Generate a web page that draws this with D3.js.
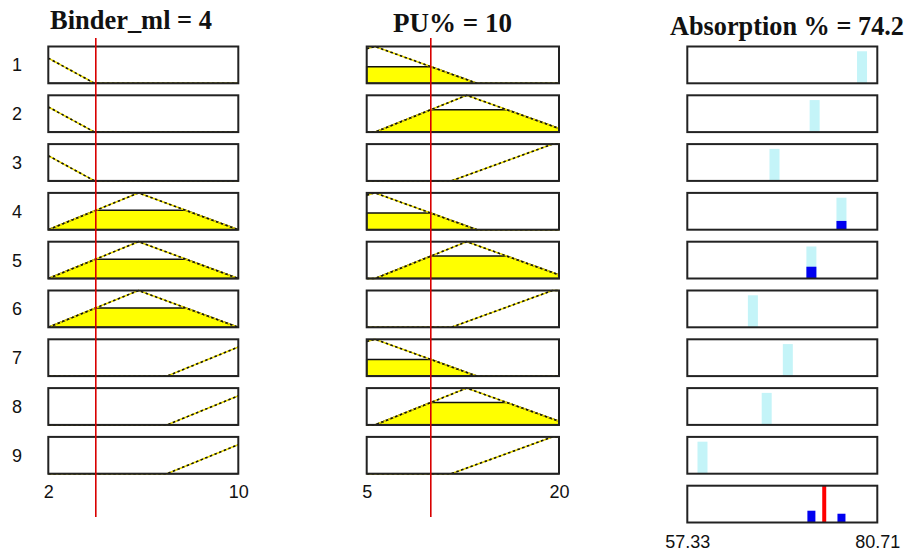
<!DOCTYPE html>
<html>
<head>
<meta charset="utf-8">
<script src="https://cdn.jsdelivr.net/npm/d3@7"></script>
<style>
  body { margin: 0; background: #fff; }
  svg { display: block; }
</style>
</head>
<body>
<svg></svg>
<script>
// figure size
var width = 913;
var height = 553;
var svg = d3.select("svg").attr("width", width).attr("height", height);

// inputs / ranges
var binderRange = [2, 10];
var puRange = [5, 20];
var outRange = [57.33, 80.71];
var binderValue = 4;
var puValue = 10;

// membership functions as trapezoids [a, b, c, d] (low, med, high)
var binderMF = [[-1, 1.1, 1.1, 3.95], [2, 5.8, 5.8, 10], [7, 10.8, 10.8, 14]];
var puMF = [[-5, 5.65, 5.65, 13.6], [5.65, 12.8, 12.8, 20.8], [11.6, 19.5, 20, 21]];

// rule table: which MF of each input, and the constant output of each rule
var ruleBinder = [0, 0, 0, 1, 1, 1, 2, 2, 2];
var rulePU = [0, 1, 2, 0, 1, 2, 0, 1, 2];
var ruleOutput = [78.83, 73.0, 68.06, 76.3, 72.6, 65.4, 69.7, 67.1, 59.2];

var rowLabels = ["1", "2", "3", "4", "5", "6", "7", "8", "9"];

function trap(x, p) {
    var a = p[0], b = p[1], c = p[2], d = p[3];
    if (x <= a || x >= d) return 0;
    if (x < b) return (x - a) / (b - a);
    if (x <= c) return 1;
    return (d - x) / (d - c);
}

// firing strength (product AND) and weighted average output
var binderDeg = binderMF.map(p => trap(binderValue, p));
var puDeg = puMF.map(p => trap(puValue, p));
var firing = ruleOutput.map((o, i) => binderDeg[ruleBinder[i]] * puDeg[rulePU[i]]);
var outValue = d3.sum(firing, (w, i) => w * ruleOutput[i]) / d3.sum(firing);

// layout scales
var rowY = d3.scaleBand()
    .domain(d3.range(1, 11))
    .range([46.5, 522.5])
    .paddingInner(12 / 48.8)
    .paddingOuter(0);
var bh = rowY.bandwidth();
var yS = d3.scaleLinear().domain([0, 1]).range([bh, 0]);

var xBinder = d3.scaleLinear().domain(binderRange).range([48.3, 238.3]);
var xPU = d3.scaleLinear().domain(puRange).range([366.7, 559]);
var xOut = d3.scaleLinear().domain(outRange).range([687.3, 877.3]);

var sansFont = "'Liberation Sans', Arial, sans-serif";
var serifFont = "'Liberation Serif', 'Times New Roman', serif";

// titles
var titles = [
    { t: "Binder_ml = " + binderValue, x: 50, y: 29, len: 162, fs: 28 },
    { t: "PU% = " + puValue, x: 393, y: 31.5, len: 119, fs: 28 },
    { t: "Absorption % = " + outValue.toFixed(1), x: 670, y: 34.5, len: 234, fs: 26.5 }
];
titles.forEach(d => {
    svg.append("text")
        .attr("x", d.x).attr("y", d.y)
        .attr("font-family", serifFont)
        .attr("font-weight", "bold")
        .attr("font-size", d.fs)
        .attr("textLength", d.len)
        .attr("lengthAdjust", "spacingAndGlyphs")
        .attr("fill", "#111")
        .text(d.t);
});

// row numbers
rowLabels.forEach((lab, i) => {
    svg.append("text")
        .attr("x", 17)
        .attr("y", rowY(i + 1) + bh / 2)
        .attr("dy", "0.36em")
        .attr("text-anchor", "middle")
        .attr("font-family", sansFont)
        .attr("font-size", 18)
        .attr("fill", "#111")
        .text(lab);
});

// one input column
function drawInput(xs, mfs, ruleIdx, value, degs) {
    var dom = xs.domain();
    ruleIdx.forEach((m, i) => {
        var p = mfs[m];
        var level = degs[m];
        var g = svg.append("g").attr("transform", "translate(0," + rowY(i + 1) + ")");

        // sample points incl. break points
        var pts = d3.range(201).map(k => dom[0] + (dom[1] - dom[0]) * k / 200);
        p.forEach(v => pts.push(v));
        pts.push(p[0] + level * (p[1] - p[0]));
        pts.push(p[3] - level * (p[3] - p[2]));
        pts = pts.filter(v => v >= dom[0] && v <= dom[1]).sort((a, b) => a - b);

        g.append("rect")
            .attr("x", xs.range()[0]).attr("y", 0)
            .attr("width", xs.range()[1] - xs.range()[0]).attr("height", bh)
            .attr("fill", "#fff");

        var area = d3.area()
            .x(d => xs(d))
            .y0(bh)
            .y1(d => yS(Math.min(trap(d, p), level)));
        g.append("path")
            .attr("d", area(pts))
            .attr("fill", "#ffff00")
            .attr("stroke", "#111")
            .attr("stroke-width", 1.5);

        var line = d3.line().x(d => xs(d)).y(d => yS(trap(d, p)));
        g.append("path")
            .attr("d", line(pts))
            .attr("fill", "none")
            .attr("stroke", "#f0e000")
            .attr("stroke-width", 1.6);
        g.append("path")
            .attr("d", line(pts))
            .attr("fill", "none")
            .attr("stroke", "#111")
            .attr("stroke-width", 1.6)
            .attr("stroke-dasharray", "2.5,2.5");

        g.append("rect")
            .attr("x", xs.range()[0]).attr("y", 0)
            .attr("width", xs.range()[1] - xs.range()[0]).attr("height", bh)
            .attr("fill", "none")
            .attr("stroke", "#222")
            .attr("stroke-width", 2);
    });

    // end labels
    var ax = d3.axisBottom(xs)
        .tickValues(dom)
        .tickFormat(d => d)
        .tickSize(0)
        .tickPadding(12);
    var axg = svg.append("g")
        .attr("transform", "translate(0," + (rowY(9) + bh) + ")")
        .call(ax);
    axg.select(".domain").remove();
    axg.selectAll("text")
        .attr("font-family", sansFont)
        .attr("font-size", 18)
        .attr("fill", "#111");

    // current input value
    svg.append("line")
        .attr("x1", xs(value)).attr("x2", xs(value))
        .attr("y1", 38).attr("y2", 517)
        .attr("stroke", "#d80000")
        .attr("stroke-width", 1.6);
}

drawInput(xBinder, binderMF, ruleBinder, binderValue, binderDeg);
drawInput(xPU, puMF, rulePU, puValue, puDeg);

// output column
var x0 = xOut.range()[0], ow = xOut.range()[1] - xOut.range()[0];
ruleOutput.forEach((o, i) => {
    var g = svg.append("g").attr("transform", "translate(0," + rowY(i + 1) + ")");
    g.append("rect")
        .attr("x", x0).attr("y", 0).attr("width", ow).attr("height", bh)
        .attr("fill", "#fff");
    g.append("rect")
        .attr("x", xOut(o) - 5).attr("y", yS(0.87))
        .attr("width", 10).attr("height", bh - yS(0.87))
        .attr("fill", "#c4f4f8");
    if (firing[i] > 0) {
        g.append("rect")
            .attr("x", xOut(o) - 5).attr("y", yS(firing[i]))
            .attr("width", 10).attr("height", bh - yS(firing[i]))
            .attr("fill", "#0000f0");
    }
    g.append("rect")
        .attr("x", x0).attr("y", 0).attr("width", ow).attr("height", bh)
        .attr("fill", "none").attr("stroke", "#222").attr("stroke-width", 2);
});

// aggregate row
var ga = svg.append("g").attr("transform", "translate(0," + rowY(10) + ")");
ga.append("rect")
    .attr("x", x0).attr("y", 0).attr("width", ow).attr("height", bh)
    .attr("fill", "#fff");
ruleOutput.forEach((o, i) => {
    if (firing[i] > 0) {
        ga.append("rect")
            .attr("x", xOut(o) - 4).attr("y", yS(firing[i]))
            .attr("width", 8).attr("height", bh - yS(firing[i]))
            .attr("fill", "#0000f0");
    }
});
ga.append("line")
    .attr("x1", xOut(outValue)).attr("x2", xOut(outValue))
    .attr("y1", 0).attr("y2", bh)
    .attr("stroke", "#ff0000")
    .attr("stroke-width", 4);
ga.append("rect")
    .attr("x", x0).attr("y", 0).attr("width", ow).attr("height", bh)
    .attr("fill", "none").attr("stroke", "#222").attr("stroke-width", 2);

var axo = d3.axisBottom(xOut)
    .tickValues(outRange)
    .tickFormat(d => d)
    .tickSize(0)
    .tickPadding(13);
var axog = svg.append("g")
    .attr("transform", "translate(0," + (rowY(10) + bh) + ")")
    .call(axo);
axog.select(".domain").remove();
axog.selectAll("text")
    .attr("font-family", sansFont)
    .attr("font-size", 18)
    .attr("fill", "#111");
</script>
</body>
</html>
